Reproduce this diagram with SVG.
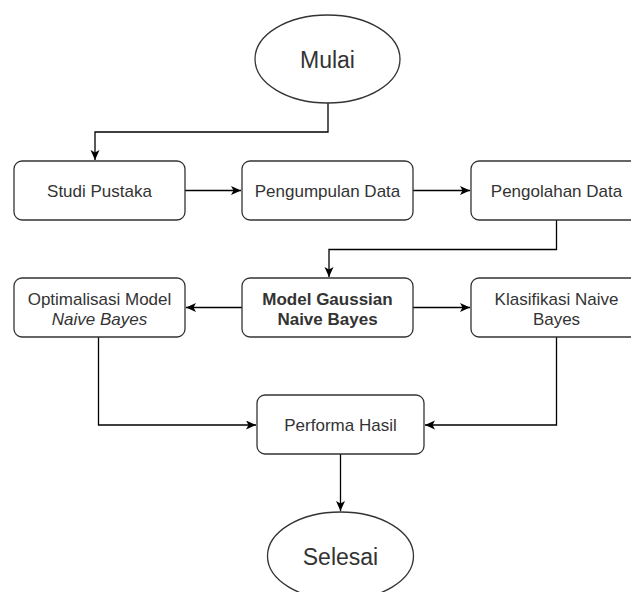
<svg xmlns="http://www.w3.org/2000/svg" width="631" height="592" viewBox="0 0 631 592">
<style>
.box{fill:#fff;stroke:#333;stroke-width:1.3}
.t{font-family:"Liberation Sans",Arial,sans-serif;font-size:17px;fill:#333;text-anchor:middle}
.big{font-size:23px}
.b{font-weight:bold}
.i{font-style:italic}
.c{fill:none;stroke:#000;stroke-width:1.3}
</style>
<defs>
<marker id="arr" markerUnits="userSpaceOnUse" markerWidth="11" markerHeight="10" refX="10" refY="4.5" orient="auto">
<path d="M0,0 L10,4.5 L0,9 L2.5,4.5 Z" fill="#000"/>
</marker>
</defs>
<rect width="631" height="592" fill="#fff"/>
<g id="connectors">
<path class="c" d="M328,103 V132 H95 V160" marker-end="url(#arr)"/>
<path class="c" d="M185,190.5 H241" marker-end="url(#arr)"/>
<path class="c" d="M413,190.5 H470" marker-end="url(#arr)"/>
<path class="c" d="M556.5,220 V249.5 H329 V277" marker-end="url(#arr)"/>
<path class="c" d="M242,307.5 H186" marker-end="url(#arr)"/>
<path class="c" d="M413,307.5 H470" marker-end="url(#arr)"/>
<path class="c" d="M98.5,337 V425 H256" marker-end="url(#arr)"/>
<path class="c" d="M556.5,337 V425 H425" marker-end="url(#arr)"/>
<path class="c" d="M340.5,454 V511" marker-end="url(#arr)"/>
</g>
<g id="mulai">
<ellipse class="box" cx="327.5" cy="59" rx="72.5" ry="44"/>
<text class="t big" x="327.5" y="67.5">Mulai</text>
</g>
<g id="studi">
<rect class="box" x="14" y="161" width="171" height="59" rx="8"/>
<text class="t" x="99.5" y="196.5">Studi Pustaka</text>
</g>
<g id="pengumpulan">
<rect class="box" x="242" y="161" width="171" height="59" rx="8"/>
<text class="t" x="327.5" y="196.5">Pengumpulan Data</text>
</g>
<g id="pengolahan">
<rect class="box" x="471" y="161" width="171" height="59" rx="8"/>
<text class="t" x="556.5" y="196.5">Pengolahan Data</text>
</g>
<g id="optimalisasi">
<rect class="box" x="14" y="278" width="171" height="59" rx="8"/>
<text class="t" x="99.5" y="304.5">Optimalisasi Model</text>
<text class="t i" x="99.5" y="324.5">Naive Bayes</text>
</g>
<g id="model">
<rect class="box" x="242" y="278" width="171" height="59" rx="8"/>
<text class="t b" x="327.5" y="304.5">Model Gaussian</text>
<text class="t b" x="327.5" y="324.5">Naive Bayes</text>
</g>
<g id="klasifikasi">
<rect class="box" x="471" y="278" width="171" height="59" rx="8"/>
<text class="t" x="556.5" y="304.5">Klasifikasi Naive</text>
<text class="t" x="556.5" y="324.5">Bayes</text>
</g>
<g id="performa">
<rect class="box" x="257" y="395" width="167" height="59" rx="8"/>
<text class="t" x="340.5" y="430.5">Performa Hasil</text>
</g>
<g id="selesai">
<ellipse class="box" cx="340.5" cy="556" rx="73" ry="44"/>
<text class="t big" x="340.5" y="564.5">Selesai</text>
</g>
</svg>
